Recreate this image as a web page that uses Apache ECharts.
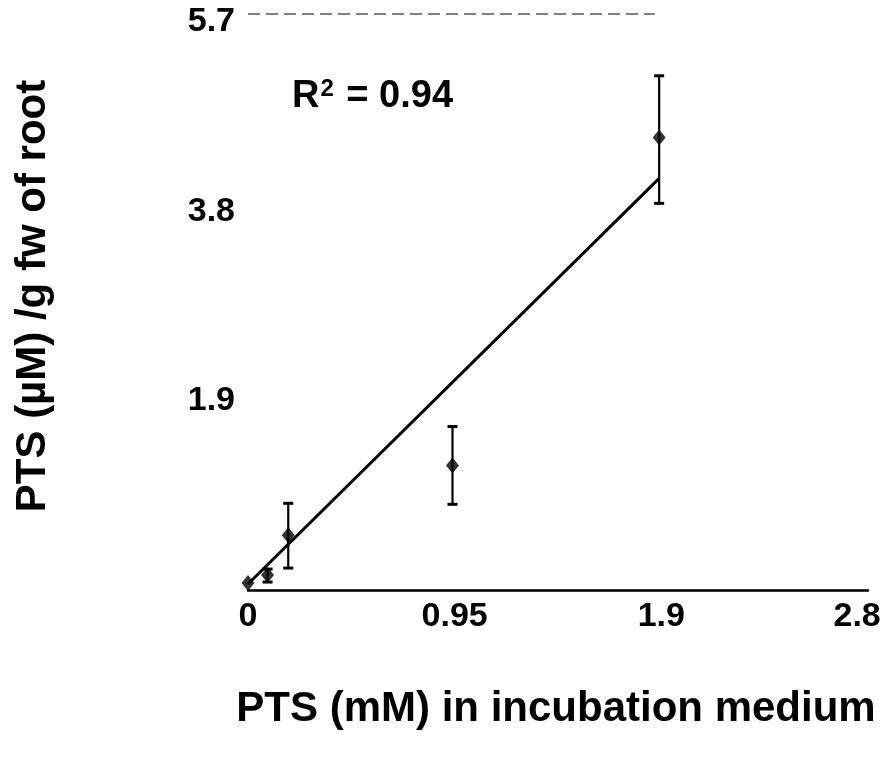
<!DOCTYPE html>
<html>
<head>
<meta charset="utf-8">
<script src="https://cdn.jsdelivr.net/npm/echarts@6/dist/echarts.min.js"></script>
<style>
html,body{margin:0;padding:0;background:#fff;}
#chart{width:890px;height:759px;}
</style>
</head>
<body>
<div id="chart"></div>
<script>
// ---- data ----
const xValues = [0, 0.09, 0.185, 0.94, 1.89];
const yMeans  = [0.07, 0.15, 0.55, 1.25, 4.54];
const yLow    = [0.07, 0.08, 0.22, 0.86, 3.88];
const yHigh   = [0.07, 0.21, 0.87, 1.64, 5.16];
const fitX = [0, 1.89];
const fitY = [0.06, 4.13];
const xTicks = [0, 0.95, 1.9, 2.8];
const yTicks = [1.9, 3.8, 5.7];
const xMax = 2.85;
const yMax = 5.78;
const topBorderX = [0, 1.87];
const r2Value = '0.94';
const xTitle = 'PTS (mM) in incubation medium';
const yTitle = 'PTS (\u00B5M) /g fw of root';

const FONT = '"Liberation Sans", Arial, Helvetica, sans-serif';

const points = xValues.map((x, i) => [x, yMeans[i]]);
const errData = xValues.map((x, i) => [x, yLow[i], yHigh[i]]);
const fitData = fitX.map((x, i) => [x, fitY[i]]);

const chart = echarts.init(document.getElementById('chart'), null, {renderer: 'canvas'});

chart.setOption({
  backgroundColor: '#ffffff',
  animation: false,
  grid: {left: 248, right: 22, top: 14, bottom: 169, containLabel: false},
  xAxis: {
    type: 'value', min: 0, max: xMax,
    axisLine: {show: true, onZero: false, lineStyle: {color: '#000', width: 2.5}},
    axisTick: {show: false},
    splitLine: {show: false},
    axisLabel: {
      customValues: xTicks,
      formatter: v => String(v),
      color: '#000', fontFamily: FONT, fontWeight: 'bold', fontSize: 34, margin: 10
    }
  },
  yAxis: {
    type: 'value', min: 0, max: yMax,
    axisLine: {show: false},
    axisTick: {show: false},
    splitLine: {show: false},
    axisLabel: {
      customValues: yTicks,
      formatter: v => String(v),
      color: '#000', fontFamily: FONT, fontWeight: 'bold', fontSize: 34, margin: 13
    }
  },
  graphic: [
    {type: 'text', x: 292, y: 97,
     style: {
       text: '{r|R}{s|2}{r| = ' + r2Value + '}',
       verticalAlign: 'middle',
       rich: {
         r: {fill: '#000', fontFamily: FONT, fontWeight: 'bold', fontSize: 38, lineHeight: 40},
         s: {fill: '#000', fontFamily: FONT, fontWeight: 'bold', fontSize: 24, lineHeight: 40, verticalAlign: 'top', padding: [0, 2, 12, 1]}
       }
     }},
    {type: 'text', x: 556, y: 709,
     style: {text: xTitle, fill: '#000', font: 'bold 42px ' + FONT, align: 'center', verticalAlign: 'middle'}},
    {type: 'text', x: 33, y: 296, rotation: Math.PI / 2,
     style: {text: yTitle, fill: '#000', font: 'bold 42px ' + FONT, align: 'center', verticalAlign: 'middle'}}
  ],
  series: [
    {
      type: 'line', data: fitData, symbol: 'none', silent: true,
      lineStyle: {color: '#000', width: 3},
      markLine: {
        silent: true, symbol: 'none', label: {show: false},
        lineStyle: {color: '#555', width: 1.5, type: [12, 6]},
        data: [[{coord: [topBorderX[0], yMax]}, {coord: [topBorderX[1], yMax]}]]
      },
      z: 2
    },
    {
      type: 'custom',
      data: errData,
      renderItem: function (params, api) {
        const x = api.value(0), lo = api.value(1), hi = api.value(2);
        if (hi - lo <= 0) return null;
        const pLo = api.coord([x, lo]);
        const pHi = api.coord([x, hi]);
        const cap = 5;
        const st = {stroke: '#000', lineWidth: 2.2};
        return {
          type: 'group',
          children: [
            {type: 'line', shape: {x1: pLo[0], y1: pLo[1], x2: pHi[0], y2: pHi[1]}, style: st},
            {type: 'line', shape: {x1: pLo[0] - cap, y1: pLo[1], x2: pLo[0] + cap, y2: pLo[1]}, style: {stroke: '#000', lineWidth: 3}},
            {type: 'line', shape: {x1: pHi[0] - cap, y1: pHi[1], x2: pHi[0] + cap, y2: pHi[1]}, style: {stroke: '#000', lineWidth: 3}}
          ]
        };
      },
      z: 3
    },
    {
      type: 'scatter', data: points, symbol: 'diamond', symbolSize: [13, 16],
      itemStyle: {color: '#000'}, z: 4
    }
  ]
});
</script>
</body>
</html>
